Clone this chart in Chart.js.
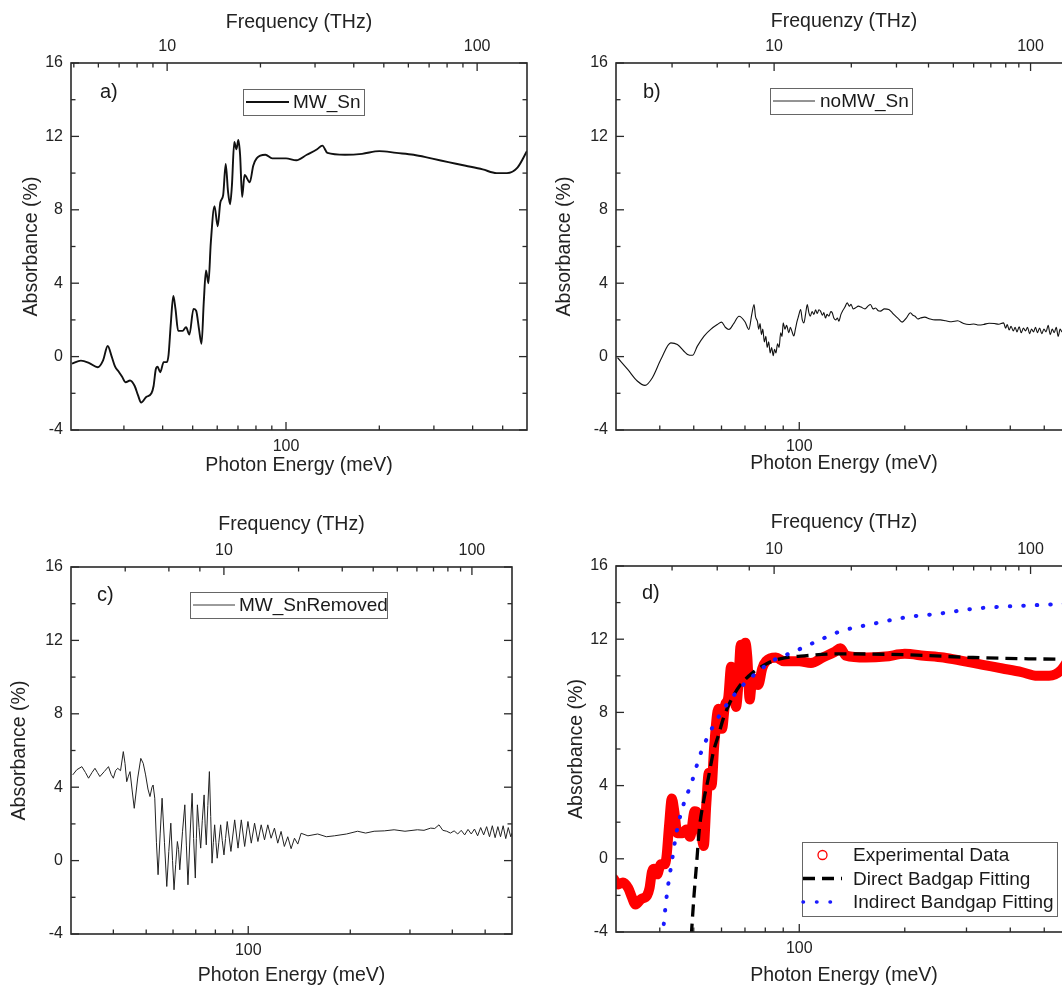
<!DOCTYPE html>
<html>
<head>
<meta charset="utf-8">
<title>Absorbance spectra</title>
<script src="https://cdn.jsdelivr.net/npm/chart.js@4.4.1/dist/chart.umd.min.js"></script>
<style>
  html, body { margin: 0; padding: 0; background: #fff; overflow: hidden; width: 1062px; height: 987px; }
  canvas { position: absolute; }
</style>
</head>
<body>
<canvas id="chartA" width="540" height="490" style="left:0;top:0"></canvas>
<canvas id="chartB" width="546" height="490" style="left:540px;top:0"></canvas>
<canvas id="chartC" width="540" height="492" style="left:0;top:495px"></canvas>
<canvas id="chartD" width="546" height="492" style="left:540px;top:495px"></canvas>
<script>
// a) MW_Sn (also the experimental data in d)
const energyA = [
  20.4, 21.8, 23.2, 24.7, 25.7, 26.6, 27.4, 28.1, 28.8, 29.6,
  30.4, 31.4, 32.5, 33.3, 34.1, 35.4, 36.8, 37.4, 38.0, 38.5,
  39.3, 40.3, 41.3, 41.8, 42.5, 43.3, 44.0, 44.9, 46.4, 47.6,
  48.8, 50.3, 51.3, 52.4, 53.4, 54.3, 55.2, 56.2, 57.2, 58.8,
  60.2, 61.4, 62.7, 63.9, 65.0, 66.0, 66.9, 68.1, 69.2, 70.2,
  71.1, 72.2, 73.5, 76.4, 78.4, 80.4, 85.8, 90.3, 100, 108,
  116.7, 126, 131, 136, 155, 176, 200, 227, 258, 294,
  334, 380, 431, 478, 516, 558, 599
];
const absA = [
  -0.38, -0.22, -0.35, -0.58, -0.2, 0.58, 0.0, -0.55, -0.8, -1.1,
  -1.4, -1.3, -1.6, -2.1, -2.5, -2.2, -2.0, -1.6, -0.7, -0.55,
  -0.85, -0.3, -0.3, 0.1, 1.8, 3.3, 2.6, 1.4, 1.4, 1.6,
  1.2, 2.6, 2.5, 1.5, 0.7, 3.0, 4.7, 4.0, 6.2, 8.2,
  7.1, 8.4, 8.8, 10.5, 9.0, 8.3, 9.3, 11.7, 11.3, 11.8,
  11.0, 8.7, 9.9, 9.5, 10.4, 10.8, 11.0, 10.8, 10.8, 10.7,
  11.0, 11.3, 11.5, 11.1, 11.0, 11.05, 11.2, 11.1, 11.0, 10.8,
  10.6, 10.4, 10.2, 10.0, 10.0, 10.3, 11.2
];

// b) noMW_Sn
const energyB = [
  30.3, 32.4, 34.5, 36.3, 38.1, 40.3, 43.0, 44.9, 48.0, 49.6,
  51.2, 53.5, 56.0, 58.4, 60.0, 61.5, 63.0, 65.0, 67.3, 70.0,
  71.8, 73.2, 74.3, 75.0, 76.0, 76.6, 77.3, 78.0, 78.7, 79.5,
  80.3, 81.0, 81.8, 82.6, 83.4, 84.3, 85.0, 85.8, 86.7, 87.6,
  88.5, 89.3, 90.0, 91.0, 92.0, 93.4, 94.3, 95.2, 96.5, 97.5,
  98.5, 99.5, 100.9, 102.0, 103.1, 104.2, 105.4, 106.5, 107.5, 108.8,
  110.1, 111.3, 112.5, 113.8, 115.0, 116.5, 117.5, 118.8, 120.0, 121.5,
  123.0, 124.2, 125.5, 127.0, 128.5, 129.7, 131.5, 133.0, 135.0, 137.0,
  139.0, 140.5, 142.5, 144.7, 147.5, 150.0, 154.0, 157.0, 159.6, 162.5,
  165.0, 168.0, 170.4, 175.0, 180.0, 183.0, 186.0, 191.0, 196.6, 202.0,
  207.5, 211.0, 214.0, 218.0, 221.6, 228.0, 236.0, 244.0, 252.7, 262.0,
  272.0, 283.0, 294.4, 305.0, 315.0, 325.0, 335.8, 348.0, 360.0, 371.0,
  382.8, 388.0, 392.0, 397.0, 402.0, 408.0, 413.0, 418.0, 424.0, 430.0,
  436.0, 442.0, 448.0, 454.0, 460.0, 466.0, 472.0, 478.0, 485.0, 492.0,
  499.0, 506.0, 513.0, 520.0, 527.0, 534.0, 541.0, 548.0, 555.0, 562.0,
  570.0, 578.0, 586.0, 593.0, 600.0
];
const absB = [
  -0.06, -0.7, -1.33, -1.57, -1.15, -0.15, 0.75, 0.66, 0.12, 0.07,
  0.57, 1.12, 1.5, 1.75, 1.88, 1.6, 1.48, 1.8, 2.2, 1.9,
  1.48, 2.3, 2.84, 2.2, 1.9, 1.5, 1.8, 1.2, 1.5, 0.8,
  1.1, 0.5, 0.8, 0.2, 0.5, 0.05, 0.4, 0.2, 0.7, 0.5,
  1.3, 1.1, 1.84, 1.5, 1.7, 1.3, 1.6, 1.4, 1.12, 1.5,
  1.9, 2.2, 2.57, 2.0, 1.84, 2.3, 2.84, 2.4, 2.2, 2.45,
  2.3, 2.55, 2.35, 2.55, 2.48, 2.25, 2.4, 2.1, 2.3, 2.2,
  2.45, 2.39, 2.1, 2.0, 2.1, 1.93, 2.3, 2.5, 2.7, 2.93,
  2.75, 2.85, 2.6, 2.66, 2.75, 2.7, 2.6, 2.75, 2.84, 2.6,
  2.65, 2.5, 2.48, 2.6, 2.57, 2.45, 2.3, 2.1, 1.88, 2.1,
  2.39, 2.25, 2.2, 2.05, 2.1, 2.15, 2.05, 2.0, 2.0, 1.95,
  1.9, 1.95, 1.8, 1.75, 1.78, 1.72, 1.75, 1.82, 1.8, 1.76,
  1.84, 1.55, 1.75, 1.45, 1.65, 1.4, 1.6, 1.35, 1.62, 1.3,
  1.55, 1.4, 1.6, 1.25, 1.5, 1.35, 1.6, 1.3, 1.55, 1.25,
  1.5, 1.35, 1.7, 1.2, 1.5, 1.3, 1.6, 1.1, 1.5, 1.35,
  1.55, 1.2, 1.5, 1.3, 1.45
];

// c) MW_SnRemoved
const energyC = [
  30.35, 31.2, 32.3, 33.1, 33.8, 34.6, 35.3, 35.9, 36.5, 37.6,
  38.7, 39.4, 40.0, 40.6, 41.2, 42.0, 42.8, 43.3, 43.8, 44.3,
  44.8, 45.4, 46.1, 47.2, 48.2, 49.0, 49.8, 50.6, 51.3, 52.0,
  52.4, 53.0, 53.6, 54.2, 55.0, 55.7, 56.6, 57.5, 58.3, 59.1,
  59.8, 60.4, 61.1, 61.8, 62.3, 62.8, 64.0, 65.0, 65.7, 66.4,
  67.4, 68.3, 69.0, 69.8, 70.3, 70.8, 71.6, 72.4, 73.2, 74.1,
  74.6, 75.2, 76.0, 76.8, 77.5, 78.2, 78.9, 79.6, 80.3, 81.0,
  81.9, 82.9, 83.8, 84.8, 85.7, 86.7, 88.9, 91.2, 93.3, 95.4,
  97.6, 99.8, 102.1, 104.4, 106.8, 109.2, 111.7, 114.2, 116.8, 119.5,
  122.2, 125.0, 127.8, 130.8, 133.8, 136.9, 140.0, 143.2, 150, 160.3,
  170, 179.5, 195, 210.2, 222, 235.2, 252, 269.4, 290, 315.5,
  330, 345.3, 355, 365.4, 375, 385, 395, 405, 415, 425,
  435, 445, 455, 465, 475, 485, 495, 505, 515, 525,
  535, 545, 555, 565, 575, 585, 595, 600
];
const absC = [
  4.67, 4.95, 5.12, 4.8, 4.49, 4.8, 5.03, 4.8, 4.58, 4.85,
  5.12, 4.7, 4.49, 4.9, 5.03, 4.9, 5.94, 5.3, 4.3, 4.6,
  4.85, 3.9, 2.85, 4.5, 5.57, 5.3, 4.67, 3.9, 3.49, 4.0,
  4.12, 3.4, 1.0, -0.77, 1.5, 3.4, 1.0, -1.41, 0.5, 2.04,
  0.0, -1.59, -0.2, 1.04, 0.6, -0.5, 1.6, 3.04, 0.8, -1.32,
  1.5, 3.67, 1.2, -0.95, 1.2, 3.04, 1.8, 0.68, 2.2, 3.58,
  2.0, 0.86, 3.0, 4.85, 2.4, -0.14, 1.0, 1.95, 1.0, 0.13,
  1.0, 1.95, 1.1, 0.31, 1.2, 2.13, 0.5, 2.22, 0.68, 2.22,
  0.77, 2.13, 0.95, 2.04, 1.04, 1.95, 1.13, 1.95, 1.22, 1.77,
  0.95, 1.59, 0.77, 1.3, 0.65, 1.22, 0.9, 1.49, 1.35, 1.45,
  1.3, 1.35, 1.45, 1.6, 1.5, 1.6, 1.62, 1.68, 1.6, 1.68,
  1.65, 1.77, 1.75, 1.95, 1.65, 1.6, 1.5, 1.62, 1.45, 1.65,
  1.4, 1.7, 1.45, 1.72, 1.35, 1.8, 1.4, 1.85, 1.3, 1.9,
  1.25, 1.85, 1.3, 1.9, 1.2, 1.8, 1.3, 1.5
];

// d) band gap fits
const energyDirect = [49.2, 50.1, 51.0, 51.9, 53.3, 55.0, 56.9, 58.8, 60.7, 63.5, 67.8, 74.0, 80.7, 88.1, 105, 130.6, 202, 313, 450, 600];
const absDirect = [-4.2, -1.97, -0.15, 1.67, 3.12, 4.39, 5.85, 6.75, 7.66, 8.57, 9.48, 10.2, 10.66, 10.93, 11.1, 11.2, 11.15, 11.0, 10.93, 10.9];
const energyIndirect = [40.7, 41.9, 43.3, 44.7, 46.7, 49.4, 52.1, 55.7, 60.1, 66.3, 74.0, 84.3, 96.1, 112.1, 130.6, 162.5, 202, 251.7, 313, 390, 485, 560, 600];
const absIndirect = [-4.3, -1.97, -0.15, 1.49, 2.94, 4.21, 5.66, 6.94, 8.03, 9.12, 10.02, 10.84, 11.3, 11.88, 12.42, 12.84, 13.2, 13.4, 13.66, 13.79, 13.87, 13.93, 13.96];

// axis ticks
const yMajorTicks = [-4, 0, 4, 8, 12, 16];
const yMinorTicks = [-2, 2, 6, 10, 14];
const energyTicksA = [30, 40, 50, 60, 70, 80, 90, 100, 200, 300, 400, 500];
const energyTicksB = [40, 50, 60, 70, 80, 90, 100, 200, 300, 400, 500];
const energyLabels = [100];
const freqTicksA = [5, 6, 7, 8, 9, 10, 20, 30, 40, 50, 60, 70, 80, 90, 100];
const freqTicksB = [4, 6, 8, 10, 20, 30, 40, 50, 60, 70, 80, 90, 100];
const freqLabels = [10, 100];

const MEV_PER_THZ = 4.1357;
const FONT = "'Liberation Sans', Arial, sans-serif";

Chart.defaults.font.family = FONT;
Chart.defaults.color = '#222';

function points(xs, ys) {
  return xs.map((x, i) => ({ x: x, y: ys[i] }));
}

// box, inward ticks on all four sides
const framePlugin = {
  id: 'frame',
  afterDraw(chart) {
    const { ctx, chartArea: a, scales } = chart;
    const line = (x1, y1, x2, y2) => { ctx.beginPath(); ctx.moveTo(x1, y1); ctx.lineTo(x2, y2); ctx.stroke(); };
    ctx.save();
    ctx.strokeStyle = '#2a2a2a';
    ctx.lineWidth = 1.3;
    yMajorTicks.concat(yMinorTicks).forEach(v => {
      const len = yMajorTicks.includes(v) ? 8 : 4.5;
      const py = scales.y.getPixelForValue(v);
      line(a.left, py, a.left + len, py);
      line(a.right, py, a.right - len, py);
    });
    scales.x.ticks.forEach(t => {
      const len = energyLabels.includes(t.value) ? 8 : 4.5;
      const px = scales.x.getPixelForValue(t.value);
      line(px, a.bottom, px, a.bottom - len);
    });
    scales.x2.ticks.forEach(t => {
      const len = freqLabels.includes(t.value) ? 8 : 4.5;
      const px = scales.x2.getPixelForValue(t.value);
      line(px, a.top, px, a.top + len);
    });
    ctx.lineWidth = 1.6;
    ctx.strokeRect(a.left, a.top, a.right - a.left, a.bottom - a.top);
    ctx.restore();
  }
};

// Origin style boxed legend
const boxLegendPlugin = {
  id: 'boxLegend',
  afterDraw(chart, args, o) {
    const ctx = chart.ctx;
    ctx.save();
    ctx.fillStyle = '#fff';
    ctx.fillRect(o.left, o.top, o.width, o.height);
    ctx.strokeStyle = '#666';
    ctx.lineWidth = 1;
    ctx.strokeRect(o.left + 0.5, o.top + 0.5, o.width, o.height);
    chart.data.datasets.forEach((ds, i) => {
      const y = o.firstRow + i * o.rowGap;
      if (ds.legendSymbol === 'circle') {
        ctx.strokeStyle = ds.borderColor;
        ctx.lineWidth = 1.3;
        ctx.beginPath();
        ctx.arc((o.sampleX0 + o.sampleX1) / 2, y, 4.5, 0, Math.PI * 2);
        ctx.stroke();
      } else {
        ctx.strokeStyle = ds.borderColor;
        ctx.lineWidth = ds.legendLineWidth || ds.borderWidth;
        ctx.lineCap = ds.borderCapStyle || 'butt';
        ctx.setLineDash(ds.borderDash || []);
        ctx.beginPath();
        ctx.moveTo(o.sampleX0, y);
        ctx.lineTo(o.sampleX1, y);
        ctx.stroke();
        ctx.setLineDash([]);
        ctx.lineCap = 'butt';
      }
      ctx.fillStyle = '#1a1a1a';
      ctx.font = o.fontSize + 'px ' + FONT;
      ctx.textBaseline = 'middle';
      ctx.fillText(ds.label, o.textX, y + 1);
    });
    ctx.restore();
  }
};

const panelLabelPlugin = {
  id: 'panelLabel',
  afterDraw(chart, args, o) {
    const ctx = chart.ctx;
    ctx.save();
    ctx.fillStyle = '#1a1a1a';
    ctx.font = '20px ' + FONT;
    ctx.textBaseline = 'middle';
    ctx.fillText(o.text, o.x, o.y);
    ctx.restore();
  }
};

function makeChart(id, datasets, cfg) {
  return new Chart(document.getElementById(id), {
    type: 'scatter',
    data: { datasets: datasets },
    options: {
      responsive: false,
      animation: false,
      layout: { padding: { left: 0, top: 0, right: cfg.rightPad, bottom: 0 } },
      plugins: {
        legend: { display: false },
        tooltip: { enabled: false },
        boxLegend: cfg.legend,
        panelLabel: cfg.label
      },
      scales: {
        x: {
          type: 'logarithmic',
          position: 'bottom',
          min: cfg.eMin,
          max: cfg.eMax,
          grid: { display: false, drawTicks: false },
          border: { display: false },
          afterBuildTicks: s => { s.ticks = cfg.eTicks.map(v => ({ value: v })); },
          afterFit: s => { s.height = cfg.bottomH; },
          ticks: {
            autoSkip: false, maxRotation: 0, minRotation: 0, padding: 7,
            font: { size: 16 },
            callback: v => energyLabels.includes(v) ? String(v) : ''
          },
          title: { display: true, text: 'Photon Energy (meV)', font: { size: 19.5 }, padding: { top: 0, bottom: cfg.bottomTitlePad } }
        },
        x2: {
          type: 'logarithmic',
          position: 'top',
          min: cfg.fMin,
          max: cfg.fMax,
          grid: { display: false, drawTicks: false },
          border: { display: false },
          afterBuildTicks: s => { s.ticks = cfg.fTicks.map(v => ({ value: v })); },
          afterFit: s => { s.height = cfg.topH; },
          ticks: {
            autoSkip: false, maxRotation: 0, minRotation: 0, padding: 7,
            font: { size: 16 },
            callback: v => freqLabels.includes(v) ? String(v) : ''
          },
          title: { display: true, text: cfg.topTitle, font: { size: 19.5 }, padding: { top: cfg.topTitlePad, bottom: 0 } }
        },
        y: {
          type: 'linear',
          min: -4,
          max: 16,
          grid: { display: false, drawTicks: false },
          border: { display: false },
          afterBuildTicks: s => { s.ticks = yMajorTicks.map(v => ({ value: v })); },
          afterFit: s => { s.width = cfg.leftW; },
          ticks: { padding: 8, font: { size: 16 } },
          title: { display: true, text: 'Absorbance (%)', font: { size: 19.5 }, padding: { top: cfg.leftTitlePad, bottom: 0 } }
        }
      }
    },
    plugins: [framePlugin, boxLegendPlugin, panelLabelPlugin]
  });
}

// a)
makeChart('chartA', [{
  label: 'MW_Sn',
  data: points(energyA, absA),
  showLine: true, pointRadius: 0, clip: 0,
  borderColor: '#111', borderWidth: 1.9,
  cubicInterpolationMode: 'monotone'
}], {
  leftW: 71, rightPad: 13, topH: 63, bottomH: 60,
  eMin: 20.25, eMax: 599, eTicks: energyTicksA,
  fMin: 20.25 / MEV_PER_THZ, fMax: 599 / MEV_PER_THZ, fTicks: freqTicksA,
  topTitle: 'Frequency (THz)', topTitlePad: 11, bottomTitlePad: 13, leftTitlePad: 20,
  legend: { left: 243, top: 89, width: 121, height: 26, firstRow: 102, rowGap: 0, sampleX0: 246, sampleX1: 289, textX: 293, fontSize: 19 },
  label: { text: 'a)', x: 100, y: 92 }
});

// b)
makeChart('chartB', [{
  label: 'noMW_Sn',
  data: points(energyB, absB),
  showLine: true, pointRadius: 0, clip: 0,
  borderColor: '#111', borderWidth: 1.1, legendLineWidth: 0.9,
  cubicInterpolationMode: 'monotone'
}], {
  leftW: 76, rightPad: 14, topH: 63, bottomH: 60,
  eMin: 30, eMax: 600, eTicks: energyTicksB,
  fMin: 10 / MEV_PER_THZ, fMax: 600 / MEV_PER_THZ, fTicks: freqTicksB,
  topTitle: 'Frequenzy (THz)', topTitlePad: 10, bottomTitlePad: 15, leftTitlePad: 13,
  legend: { left: 230, top: 88, width: 142, height: 26, firstRow: 101, rowGap: 0, sampleX0: 233, sampleX1: 275, textX: 280, fontSize: 19 },
  label: { text: 'b)', x: 103, y: 92 }
});

// c)
makeChart('chartC', [{
  label: 'MW_SnRemoved',
  data: points(energyC, absC),
  showLine: true, pointRadius: 0, clip: 0,
  borderColor: '#222', borderWidth: 1.0, legendLineWidth: 0.9
}], {
  leftW: 71, rightPad: 28, topH: 72, bottomH: 53,
  eMin: 30, eMax: 600, eTicks: energyTicksB,
  fMin: 10 / MEV_PER_THZ, fMax: 600 / MEV_PER_THZ, fTicks: freqTicksB,
  topTitle: 'Frequency (THz)', topTitlePad: 18, bottomTitlePad: 0, leftTitlePad: 8,
  legend: { left: 190, top: 97, width: 197, height: 26, firstRow: 110, rowGap: 0, sampleX0: 193, sampleX1: 235, textX: 239, fontSize: 19 },
  label: { text: 'c)', x: 97, y: 100 }
});

// d)
makeChart('chartD', [{
  label: 'Experimental Data',
  data: points(energyA, absA),
  showLine: true, pointRadius: 0, clip: 0, order: 3,
  borderColor: '#ff0000', borderWidth: 10, borderCapStyle: 'round', borderJoinStyle: 'round',
  cubicInterpolationMode: 'monotone',
  legendSymbol: 'circle'
}, {
  label: 'Direct Badgap Fitting',
  data: points(energyDirect, absDirect),
  showLine: true, pointRadius: 0, clip: 0, order: 2,
  borderColor: '#000', borderWidth: 3.3, borderDash: [12, 7],
  cubicInterpolationMode: 'monotone'
}, {
  label: 'Indirect Bandgap Fitting',
  data: points(energyIndirect, absIndirect),
  showLine: true, pointRadius: 0, clip: 0, order: 1,
  borderColor: '#1a1aff', borderWidth: 4, borderDash: [0.5, 13], borderCapStyle: 'round',
  legendLineWidth: 3.5,
  cubicInterpolationMode: 'monotone'
}], {
  leftW: 76, rightPad: 14, topH: 71, bottomH: 55,
  eMin: 30, eMax: 600, eTicks: energyTicksB,
  fMin: 10 / MEV_PER_THZ, fMax: 600 / MEV_PER_THZ, fTicks: freqTicksB,
  topTitle: 'Frequency (THz)', topTitlePad: 16, bottomTitlePad: 0, leftTitlePad: 25,
  legend: { left: 262, top: 347, width: 255, height: 74, firstRow: 360, rowGap: 23.5, sampleX0: 263, sampleX1: 302, textX: 313, fontSize: 19 },
  label: { text: 'd)', x: 102, y: 98 }
});
</script>
</body>
</html>
